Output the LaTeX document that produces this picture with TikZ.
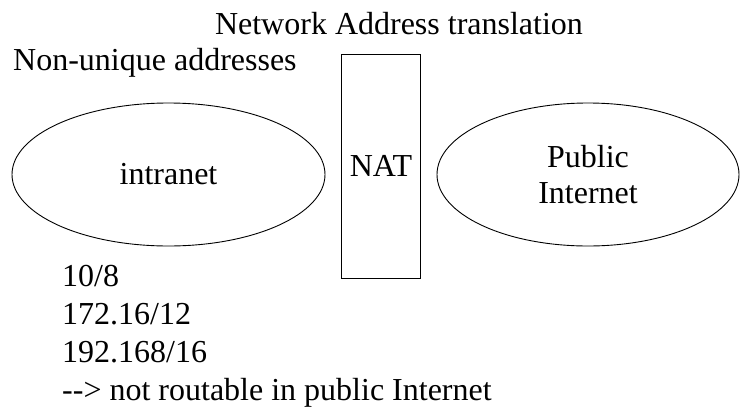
\documentclass[tikz,border=0pt]{standalone}
\usepackage{fontspec}
\setmainfont{Liberation Serif}
\usepackage{tikz}
\usetikzlibrary{shapes.geometric, positioning}

\tikzset{
    bigtext/.style={font=\fontsize{32}{36}\selectfont, inner sep=0pt},
    netcloud/.style={bigtext, draw, ellipse, line width=0.9pt, minimum height=143pt, align=center},
    natbox/.style={bigtext, draw, rectangle, line width=0.9pt, minimum width=79pt, minimum height=224pt}
}

\begin{document}
\begin{tikzpicture}[x=1pt, y=1pt]
    \useasboundingbox (0,0) rectangle (741,-410);

    % titles
    \node[bigtext, anchor=base] (title) at (399,-34) {Network Address translation};
    \node[bigtext, anchor=base west] (nonunique) at (13,-70) {Non-unique addresses};

    % networks and the NAT box
    \node[netcloud, minimum width=313pt] (intranet) at (168.5,-174.5) {intranet};
    \node[natbox] (nat) at (381,-166) {NAT};
    \node[netcloud, minimum width=302pt] (public) at (588,-174.5) {Public\\Internet};

    % private ranges
    \node[bigtext, anchor=base west] (range1) at (62,-286.5) {10/8};
    \node[bigtext, anchor=base west] (range2) at (62,-324.5) {172.16/12};
    \node[bigtext, anchor=base west] (range3) at (62,-362.5) {192.168/16};
    \node[bigtext, anchor=base west] (note) at (62,-400) {-{}-> not routable in public Internet};
\end{tikzpicture}
\end{document}
